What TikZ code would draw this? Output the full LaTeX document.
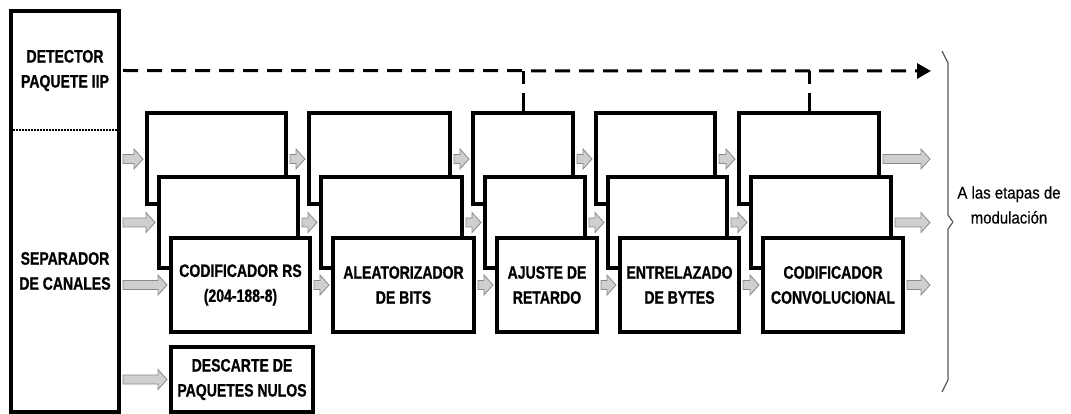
\documentclass[tikz,border=0pt]{standalone}
\usepackage{fontspec}
\setmainfont{Liberation Sans}
\newfontfamily\boxfont{Liberation Sans}[FakeStretch=0.78, BoldFeatures={FakeBold=0.8}]
\newfontfamily\notefont{Liberation Sans}[FakeStretch=0.88, FakeBold=0.4]
\usetikzlibrary{arrows.meta,calc}
\definecolor{arrowfill}{HTML}{CFCFCF}
\definecolor{arrowline}{HTML}{8A8A8A}
\begin{document}
\begin{tikzpicture}[x=1pt,y=-1pt,
  blk/.style={draw, line width=4pt, fill=white, inner sep=0pt},
  lbl/.style={font=\boxfont\bfseries\fontsize{18}{25}\selectfont, align=center, inner sep=0pt},
  back/.style={blk, minimum height=91pt},
  front/.style={blk, lbl, minimum height=94pt},
  dashline/.style={line width=3pt, dash pattern=on 15pt off 9pt},
  vdash/.style={line width=3pt, dash pattern=on 13pt off 9pt on 30pt},
  fat/.style={fill=arrowfill, draw=arrowline, line width=0.8pt,
    to path={let \p1=(\tikztostart),\p2=(\tikztotarget) in
      (\x1+2pt,\y1+4.5pt) -- (\x2-11pt,\y1+4.5pt) -- (\x2-11pt,\y1+10pt) --
      (\x2-2pt,\y1) -- (\x2-11pt,\y1-10pt) -- (\x2-11pt,\y1-4.5pt) --
      (\x1+2pt,\y1-4.5pt) -- cycle}},
]
\useasboundingbox (0,0) rectangle (1071,414);

% left box
\node[blk, minimum width=108pt, minimum height=401pt] (lb) at (65,211.5) {};
\node[lbl] (det) at (65,70.5) {DETECTOR\\PAQUETE IIP};
\node[lbl] (sep) at (65,271) {SEPARADOR\\DE CANALES};
\coordinate (dv) at (65,130);
\draw[line width=1.5pt, dash pattern=on 1.5pt off 1.5pt] ([xshift=-52pt]dv) -- ([xshift=52pt]dv);

% group 1
\node[back, minimum width=139pt] (a1) at (216.5,159) {};
\node[back, minimum width=139pt] (b1) at (228.5,222.5) {};
\node[front, minimum width=139pt] (c1) at (240.5,285) {CODIFICADOR RS\\(204-188-8)};
% group 2
\node[back, minimum width=141pt] (a2) at (379.5,159) {};
\node[back, minimum width=141pt] (b2) at (391.5,222.5) {};
\node[front, minimum width=141pt] (c2) at (403.5,285) {ALEATORIZADOR\\DE BITS};
% group 3
\node[back, minimum width=100pt] (a3) at (523,159) {};
\node[back, minimum width=100pt] (b3) at (535,222.5) {};
\node[front, minimum width=100pt] (c3) at (547,285) {AJUSTE DE\\RETARDO};
% group 4
\node[back, minimum width=119pt] (a4) at (655.5,159) {};
\node[back, minimum width=119pt] (b4) at (667.5,222.5) {};
\node[front, minimum width=119pt] (c4) at (679.5,285) {ENTRELAZADO\\DE BYTES};
% group 5
\node[back, minimum width=140pt] (a5) at (809,159) {};
\node[back, minimum width=140pt] (b5) at (821,222.5) {};
\node[front, minimum width=140pt] (c5) at (833,285) {CODIFICADOR\\CONVOLUCIONAL};
% descarte
\node[blk, lbl, minimum width=142pt, minimum height=65pt] (d) at (242,379.5) {DESCARTE DE\\PAQUETES NULOS};

% outputs
\coordinate (o1) at (932,159);
\coordinate (o2) at (932,222.5);
\coordinate (o3) at (932,285);
\coordinate (arrend) at (931,71);

% gray arrows
\path[fat] (lb.east |- a1.west) to (a1.west);
\path[fat] (lb.east |- b1.west) to (b1.west);
\path[fat] (lb.east |- c1.west) to (c1.west);
\path[fat] (lb.east |- d.west) to (d.west);
\path[fat] (a1.east) to (a2.west);
\path[fat] (b1.east) to (b2.west);
\path[fat] (c1.east) to (c2.west);
\path[fat] (a2.east) to (a3.west);
\path[fat] (b2.east) to (b3.west);
\path[fat] (c2.east) to (c3.west);
\path[fat] (a3.east) to (a4.west);
\path[fat] (b3.east) to (b4.west);
\path[fat] (c3.east) to (c4.west);
\path[fat] (a4.east) to (a5.west);
\path[fat] (b4.east) to (b5.west);
\path[fat] (c4.east) to (c5.west);
\path[fat] (a5.east) to (o1);
\path[fat] (b5.east) to (o2);
\path[fat] (c5.east) to (o3);

% dashed control line
\draw[dashline, -{Triangle[length=14pt,width=15pt]}] ([xshift=2pt]lb.east |- det.center) -- (arrend);
\draw[vdash] (a3.north |- arrend) -- (a3.north);
\draw[vdash] (a5.north |- arrend) -- (a5.north);

% brace
\draw[black!65, line width=1.2pt, line join=round] (942,51) -- (948,63) -- (948,215) -- (953,222) -- (948,229) -- (948,380) -- (942,392);
\node[font=\notefont\fontsize{17}{25}\selectfont, align=center, inner sep=0pt] (note) at (1009,205) {A las etapas de\\modulación};
\end{tikzpicture}
\end{document}
